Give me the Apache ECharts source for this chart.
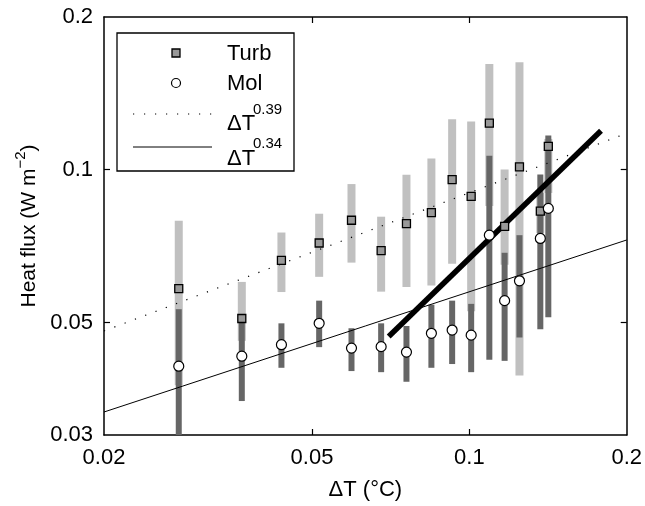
<!DOCTYPE html>
<html>
<head>
<meta charset="utf-8">
<script src="https://cdn.jsdelivr.net/npm/echarts@6/dist/echarts.min.js"></script>
<style>html,body{margin:0;padding:0;background:#fff}#c{width:645px;height:506px}</style>
</head>
<body>
<div id="c"></div>
<script>
// ---- data ----
const deltaT = [0.0278,0.0367,0.0437,0.0516,0.0595,0.0678,0.0758,0.0846,0.0927,0.1008,0.1092,0.1168,0.1247,0.1367,0.1416];
const turb   = [0.0583,0.0509,0.0663,0.0717,0.0795,0.0693,0.0783,0.0823,0.0956,0.0886,0.1235,0.0773,0.1013,0.0829,0.1112];
const turbLo = [0.0376,0.0460,0.0574,0.0615,0.0656,0.0575,0.0587,0.0591,0.0653,0.0526,0.0848,0.0650,0.0393,0.0750,0.0900];
const turbHi = [0.0793,0.0601,0.0752,0.0819,0.0937,0.0808,0.0977,0.1052,0.1258,0.1245,0.1616,0.1001,0.1628,0.0900,0.1150];
const mol    = [0.0410,0.0429,0.0452,0.0498,0.0445,0.0448,0.0437,0.0476,0.0483,0.0472,0.0743,0.0552,0.0604,0.0732,0.0839];
const molLo  = [0.0280,0.0350,0.0407,0.0447,0.0401,0.0399,0.0382,0.0407,0.0414,0.0399,0.0422,0.0420,0.0467,0.0485,0.0512];
const molHi  = [0.0531,0.0511,0.0498,0.0552,0.0487,0.0498,0.0492,0.0542,0.0552,0.0544,0.1065,0.0686,0.0743,0.0979,0.1168];
const fit039 = [[0.02,0.0481],[0.2,0.118]];
const fit034 = [[0.02,0.0333],[0.2,0.0727]];
const thickLine = [[0.0701,0.0469],[0.1786,0.1194]];
const xTicks = [0.02,0.05,0.1,0.2];
const yTicks = [0.03,0.05,0.1,0.2];
const legendNames = ['Turb','Mol','ΔT','ΔT'];
const legendExps = ['0.39','0.34'];

const FONT = '"Liberation Sans", Arial, Helvetica, sans-serif';
const FS = 22;
const chart = echarts.init(document.getElementById('c'), null, {renderer:'canvas'});

function barItem(color, w){
  return function(params, api){
    const x = api.value(0), lo = api.value(1), hi = api.value(2);
    const p1 = api.coord([x, hi]), p2 = api.coord([x, lo]);
    const cs = params.coordSys;
    const r = echarts.graphic.clipRectByRect(
      {x: p1[0]-w/2, y: p1[1], width: w, height: p2[1]-p1[1]},
      {x: cs.x, y: cs.y, width: cs.width, height: cs.height});
    if (!r) return null;
    return {type:'rect', shape:r, style:{fill:color}};
  };
}
const fmt = v => String(Number(Number(v).toPrecision(2)));
const axisLine = {show:true, onZero:false, lineStyle:{color:'#000', width:1.5}};
function xa(pos, labels){
  return {type:'log', logBase:10, min:0.02, max:0.2, position:pos,
    axisLine, splitLine:{show:false}, minorTick:{show:false},
    axisTick:{show:true, inside:true, length:6, customValues:[0.05,0.1], lineStyle:{color:'#000', width:1.2}},
    axisLabel:{show:labels, customValues:xTicks, formatter:fmt, fontSize:FS, color:'#000', fontFamily:FONT, margin:12},
    name: labels ? 'ΔT (°C)' : '', nameLocation:'middle', nameGap:44,
    nameTextStyle:{fontSize:FS, color:'#000', fontFamily:FONT}};
}
function ya(pos, labels){
  return {type:'log', logBase:10, min:0.03, max:0.2, position:pos,
    axisLine, splitLine:{show:false}, minorTick:{show:false},
    axisTick:{show:true, inside:true, length:6, customValues:[0.05,0.1], lineStyle:{color:'#000', width:1.2}},
    axisLabel:{show:labels, customValues:yTicks, formatter:fmt, fontSize:FS, color:'#000', fontFamily:FONT, margin:11},
    name: labels ? '{a|Heat flux (W m}{b|−2}{a|)}' : '', nameLocation:'middle', nameGap:64, nameRotate:90,
    nameTextStyle:{color:'#000', fontFamily:FONT, rich:{
      a:{fontSize:21, color:'#000', fontFamily:FONT, lineHeight:26, verticalAlign:'bottom'},
      b:{fontSize:15, color:'#000', fontFamily:FONT, lineHeight:10, verticalAlign:'top'}}}};
}

const lightData = deltaT.map((x,i)=>[x, turbLo[i], turbHi[i]]);
const darkData = deltaT.map((x,i)=>[x, molLo[i], molHi[i]]);

// legend graphics
const LX = 117, LY = 33;
const graphics = [
  {type:'rect', shape:{x:LX, y:LY, width:177, height:138}, style:{fill:'#fff', stroke:'#000', lineWidth:1.3}, z:10},
  {type:'rect', shape:{x:172, y:49, width:8, height:8}, style:{fill:'#999', stroke:'#000', lineWidth:1.3}, z:11},
  {type:'circle', shape:{cx:176, cy:83, r:4.5}, style:{fill:'#fff', stroke:'#000', lineWidth:1.2}, z:11},
  {type:'line', shape:{x1:133, y1:114, x2:212, y2:114}, style:{stroke:'#000', lineWidth:1.2, lineDash:[1.2,9.8]}, z:11},
  {type:'line', shape:{x1:133, y1:147, x2:212, y2:147}, style:{stroke:'#000', lineWidth:1}, z:11},
  {type:'text', x:227, y:54, style:{text:legendNames[0], font:FS+'px '+FONT, fill:'#000', textVerticalAlign:'middle'}, z:11},
  {type:'text', x:227, y:84, style:{text:legendNames[1], font:FS+'px '+FONT, fill:'#000', textVerticalAlign:'middle'}, z:11},
  {type:'text', x:227, y:124, style:{text:legendNames[2], font:FS+'px '+FONT, fill:'#000', textVerticalAlign:'middle'}, z:11},
  {type:'text', x:253, y:110, style:{text:legendExps[0], font:'15px '+FONT, fill:'#000', textVerticalAlign:'middle'}, z:11},
  {type:'text', x:227, y:159, style:{text:legendNames[3], font:FS+'px '+FONT, fill:'#000', textVerticalAlign:'middle'}, z:11},
  {type:'text', x:253, y:144, style:{text:legendExps[1], font:'15px '+FONT, fill:'#000', textVerticalAlign:'middle'}, z:11}
];

chart.setOption({
  animation:false,
  backgroundColor:'#fff',
  grid:{left:104, right:16, top:17, bottom:64, containLabel:false},
  xAxis:[xa('bottom', true), xa('top', false)],
  yAxis:[ya('left', true), ya('right', false)],
  graphic: graphics,
  series:[
    {type:'custom', renderItem:barItem('#c0c0c0', 8), data:lightData, encode:{x:0, y:[1,2]}, z:1, silent:true},
    {type:'custom', renderItem:barItem('#666666', 6), data:darkData, encode:{x:0, y:[1,2]}, z:2, silent:true},
    {type:'line', data:fit039, symbol:'none', lineStyle:{color:'#000', width:1.2, type:[1.2,9.8]}, z:3, silent:true},
    {type:'line', data:fit034, symbol:'none', lineStyle:{color:'#000', width:1}, z:3, silent:true},
    {type:'line', data:thickLine, symbol:'none', lineStyle:{color:'#000', width:5.5}, z:4, silent:true},
    {type:'scatter', data:deltaT.map((x,i)=>[x, turb[i]]), symbol:'rect', symbolSize:8, itemStyle:{color:'#999', borderColor:'#000', borderWidth:1.3, opacity:1}, z:5, silent:true},
    {type:'scatter', data:deltaT.map((x,i)=>[x, mol[i]]), symbol:'circle', symbolSize:10, itemStyle:{color:'#fff', borderColor:'#000', borderWidth:1.2, opacity:1}, z:6, silent:true}
  ]
});
</script>
</body>
</html>
